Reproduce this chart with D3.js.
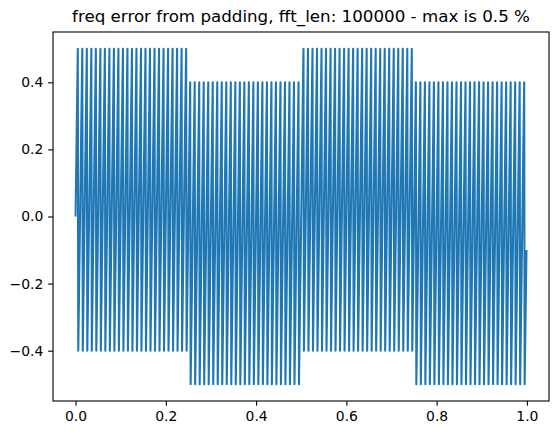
<!DOCTYPE html>
<html>
<head>
<meta charset="utf-8">
<script src="https://cdn.jsdelivr.net/npm/d3@7"></script>
<style>
body { margin: 0; background: #fff; }
svg text { font-family: "DejaVu Sans", sans-serif; fill: #000; }
</style>
</head>
<body>
<div id="chart"></div>
<script>
var w = 559,
	h = 435,
	m = { left: 53, right: 10, top: 32, bottom: 34 };

var title = 'freq error from padding, fft_len: 100000 - max is 0.5 %';
var xTicks = [0.0, 0.2, 0.4, 0.6, 0.8, 1.0];
var yTicks = [-0.4, -0.2, 0.0, 0.2, 0.4];

// sample positions: 0.000 .. 0.999, step 0.001
var sampleCount = 1000,
	sampleStep = 0.001;

// error in %, one row = 5 periods of 10 samples
var err = [
	0,.1,.2,.3,.4,.5,-.4,-.3,-.2,-.1, 0,.1,.2,.3,.4,.5,-.4,-.3,-.2,-.1, 0,.1,.2,.3,.4,.5,-.4,-.3,-.2,-.1, 0,.1,.2,.3,.4,.5,-.4,-.3,-.2,-.1, 0,.1,.2,.3,.4,.5,-.4,-.3,-.2,-.1,
	0,.1,.2,.3,.4,.5,-.4,-.3,-.2,-.1, 0,.1,.2,.3,.4,.5,-.4,-.3,-.2,-.1, 0,.1,.2,.3,.4,.5,-.4,-.3,-.2,-.1, 0,.1,.2,.3,.4,.5,-.4,-.3,-.2,-.1, 0,.1,.2,.3,.4,.5,-.4,-.3,-.2,-.1,
	0,.1,.2,.3,.4,.5,-.4,-.3,-.2,-.1, 0,.1,.2,.3,.4,.5,-.4,-.3,-.2,-.1, 0,.1,.2,.3,.4,.5,-.4,-.3,-.2,-.1, 0,.1,.2,.3,.4,.5,-.4,-.3,-.2,-.1, 0,.1,.2,.3,.4,.5,-.4,-.3,-.2,-.1,
	0,.1,.2,.3,.4,.5,-.4,-.3,-.2,-.1, 0,.1,.2,.3,.4,.5,-.4,-.3,-.2,-.1, 0,.1,.2,.3,.4,.5,-.4,-.3,-.2,-.1, 0,.1,.2,.3,.4,.5,-.4,-.3,-.2,-.1, 0,.1,.2,.3,.4,.5,-.4,-.3,-.2,-.1,
	0,.1,.2,.3,.4,.5,-.4,-.3,-.2,-.1, 0,.1,.2,.3,.4,.5,-.4,-.3,-.2,-.1, 0,.1,.2,.3,.4,.5,-.4,-.3,-.2,-.1, 0,.1,.2,.3,.4,.5,-.4,-.3,-.2,-.1, 0,.1,.2,.3,.4,.5,-.4,-.3,-.2,-.1,
	0,.1,.2,.3,.4,-.5,-.4,-.3,-.2,-.1, 0,.1,.2,.3,.4,-.5,-.4,-.3,-.2,-.1, 0,.1,.2,.3,.4,-.5,-.4,-.3,-.2,-.1, 0,.1,.2,.3,.4,-.5,-.4,-.3,-.2,-.1, 0,.1,.2,.3,.4,-.5,-.4,-.3,-.2,-.1,
	0,.1,.2,.3,.4,-.5,-.4,-.3,-.2,-.1, 0,.1,.2,.3,.4,-.5,-.4,-.3,-.2,-.1, 0,.1,.2,.3,.4,-.5,-.4,-.3,-.2,-.1, 0,.1,.2,.3,.4,-.5,-.4,-.3,-.2,-.1, 0,.1,.2,.3,.4,-.5,-.4,-.3,-.2,-.1,
	0,.1,.2,.3,.4,-.5,-.4,-.3,-.2,-.1, 0,.1,.2,.3,.4,-.5,-.4,-.3,-.2,-.1, 0,.1,.2,.3,.4,-.5,-.4,-.3,-.2,-.1, 0,.1,.2,.3,.4,-.5,-.4,-.3,-.2,-.1, 0,.1,.2,.3,.4,-.5,-.4,-.3,-.2,-.1,
	0,.1,.2,.3,.4,-.5,-.4,-.3,-.2,-.1, 0,.1,.2,.3,.4,-.5,-.4,-.3,-.2,-.1, 0,.1,.2,.3,.4,-.5,-.4,-.3,-.2,-.1, 0,.1,.2,.3,.4,-.5,-.4,-.3,-.2,-.1, 0,.1,.2,.3,.4,-.5,-.4,-.3,-.2,-.1,
	0,.1,.2,.3,.4,-.5,-.4,-.3,-.2,-.1, 0,.1,.2,.3,.4,-.5,-.4,-.3,-.2,-.1, 0,.1,.2,.3,.4,-.5,-.4,-.3,-.2,-.1, 0,.1,.2,.3,.4,-.5,-.4,-.3,-.2,-.1, 0,.1,.2,.3,.4,-.5,-.4,-.3,-.2,-.1,
	0,.1,.2,.3,.4,.5,-.4,-.3,-.2,-.1, 0,.1,.2,.3,.4,.5,-.4,-.3,-.2,-.1, 0,.1,.2,.3,.4,.5,-.4,-.3,-.2,-.1, 0,.1,.2,.3,.4,.5,-.4,-.3,-.2,-.1, 0,.1,.2,.3,.4,.5,-.4,-.3,-.2,-.1,
	0,.1,.2,.3,.4,.5,-.4,-.3,-.2,-.1, 0,.1,.2,.3,.4,.5,-.4,-.3,-.2,-.1, 0,.1,.2,.3,.4,.5,-.4,-.3,-.2,-.1, 0,.1,.2,.3,.4,.5,-.4,-.3,-.2,-.1, 0,.1,.2,.3,.4,.5,-.4,-.3,-.2,-.1,
	0,.1,.2,.3,.4,.5,-.4,-.3,-.2,-.1, 0,.1,.2,.3,.4,.5,-.4,-.3,-.2,-.1, 0,.1,.2,.3,.4,.5,-.4,-.3,-.2,-.1, 0,.1,.2,.3,.4,.5,-.4,-.3,-.2,-.1, 0,.1,.2,.3,.4,.5,-.4,-.3,-.2,-.1,
	0,.1,.2,.3,.4,.5,-.4,-.3,-.2,-.1, 0,.1,.2,.3,.4,.5,-.4,-.3,-.2,-.1, 0,.1,.2,.3,.4,.5,-.4,-.3,-.2,-.1, 0,.1,.2,.3,.4,.5,-.4,-.3,-.2,-.1, 0,.1,.2,.3,.4,.5,-.4,-.3,-.2,-.1,
	0,.1,.2,.3,.4,.5,-.4,-.3,-.2,-.1, 0,.1,.2,.3,.4,.5,-.4,-.3,-.2,-.1, 0,.1,.2,.3,.4,.5,-.4,-.3,-.2,-.1, 0,.1,.2,.3,.4,.5,-.4,-.3,-.2,-.1, 0,.1,.2,.3,.4,.5,-.4,-.3,-.2,-.1,
	0,.1,.2,.3,.4,-.5,-.4,-.3,-.2,-.1, 0,.1,.2,.3,.4,-.5,-.4,-.3,-.2,-.1, 0,.1,.2,.3,.4,-.5,-.4,-.3,-.2,-.1, 0,.1,.2,.3,.4,-.5,-.4,-.3,-.2,-.1, 0,.1,.2,.3,.4,-.5,-.4,-.3,-.2,-.1,
	0,.1,.2,.3,.4,-.5,-.4,-.3,-.2,-.1, 0,.1,.2,.3,.4,-.5,-.4,-.3,-.2,-.1, 0,.1,.2,.3,.4,-.5,-.4,-.3,-.2,-.1, 0,.1,.2,.3,.4,-.5,-.4,-.3,-.2,-.1, 0,.1,.2,.3,.4,-.5,-.4,-.3,-.2,-.1,
	0,.1,.2,.3,.4,-.5,-.4,-.3,-.2,-.1, 0,.1,.2,.3,.4,-.5,-.4,-.3,-.2,-.1, 0,.1,.2,.3,.4,-.5,-.4,-.3,-.2,-.1, 0,.1,.2,.3,.4,-.5,-.4,-.3,-.2,-.1, 0,.1,.2,.3,.4,-.5,-.4,-.3,-.2,-.1,
	0,.1,.2,.3,.4,-.5,-.4,-.3,-.2,-.1, 0,.1,.2,.3,.4,-.5,-.4,-.3,-.2,-.1, 0,.1,.2,.3,.4,-.5,-.4,-.3,-.2,-.1, 0,.1,.2,.3,.4,-.5,-.4,-.3,-.2,-.1, 0,.1,.2,.3,.4,-.5,-.4,-.3,-.2,-.1,
	0,.1,.2,.3,.4,-.5,-.4,-.3,-.2,-.1, 0,.1,.2,.3,.4,-.5,-.4,-.3,-.2,-.1, 0,.1,.2,.3,.4,-.5,-.4,-.3,-.2,-.1, 0,.1,.2,.3,.4,-.5,-.4,-.3,-.2,-.1, 0,.1,.2,.3,.4,-.5,-.4,-.3,-.2,-.1
];

var xs = d3.range(sampleCount).map(function(i) { return i * sampleStep; });
var points = err.map(function(v, i) { return [xs[i], v]; });

var iw = w - m.left - m.right,
	ih = h - m.top - m.bottom;

// matplotlib style 5% margins
var xMin = d3.min(xs), xMax = d3.max(xs), xPad = (xMax - xMin) * 0.05;
var yMin = d3.min(err), yMax = d3.max(err), yPad = (yMax - yMin) * 0.05;

var xScale = d3.scaleLinear().domain([xMin - xPad, xMax + xPad]).range([0, iw]);
var yScale = d3.scaleLinear().domain([yMin - yPad, yMax + yPad]).range([ih, 0]);

var svg = d3.select('#chart').append('svg')
	.attr('width', w)
	.attr('height', h);

var g = svg.append('g').attr('transform', 'translate(' + m.left + ',' + m.top + ')');

g.append('path')
	.datum(points)
	.attr('fill', 'none')
	.attr('stroke', '#1f77b4')
	.attr('stroke-width', 2.08)
	.attr('stroke-linejoin', 'round')
	.attr('d', d3.line()
		.x(function(d) { return xScale(d[0]); })
		.y(function(d) { return yScale(d[1]); }));

var fmt = d3.format('.1f');

var xAxis = g.append('g')
	.attr('transform', 'translate(0,' + ih + ')')
	.call(d3.axisBottom(xScale).tickValues(xTicks).tickFormat(fmt).tickSizeInner(4.86).tickSizeOuter(0).tickPadding(4.86));

var yAxis = g.append('g')
	.call(d3.axisLeft(yScale).tickValues(yTicks).tickFormat(fmt).tickSizeInner(4.86).tickSizeOuter(0).tickPadding(4.86));

[xAxis, yAxis].forEach(function(a) {
	a.select('.domain').remove();
	a.selectAll('line').attr('stroke', '#000').attr('stroke-width', 1.1);
	a.selectAll('text').style('font-size', '13.9px').attr('fill', '#000');
});

g.append('rect')
	.attr('width', iw)
	.attr('height', ih)
	.attr('fill', 'none')
	.attr('stroke', '#000')
	.attr('stroke-width', 1.1);

svg.append('text')
	.attr('x', m.left + iw / 2)
	.attr('y', 21.5)
	.attr('text-anchor', 'middle')
	.style('font-size', '16.7px')
	.text(title);
</script>
</body>
</html>
